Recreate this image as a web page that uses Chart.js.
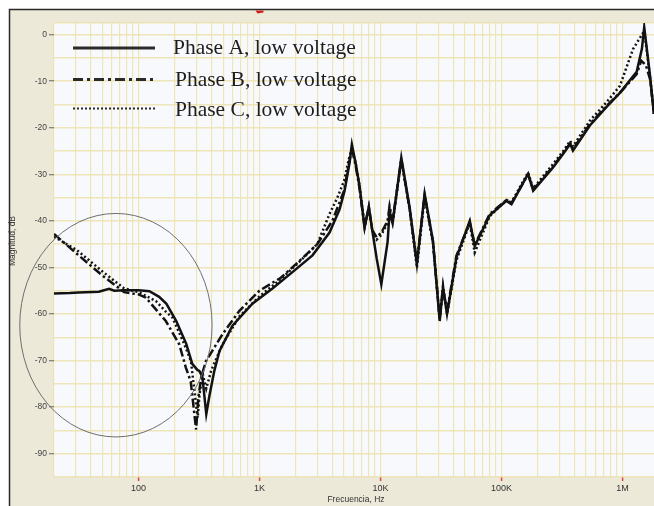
<!DOCTYPE html>
<html>
<head>
<meta charset="utf-8">
<script src="https://cdn.jsdelivr.net/npm/chart.js@4.4.1/dist/chart.umd.min.js"></script>
<style>
html,body{margin:0;padding:0;background:#fff;}
#wrap{width:654px;height:506px;position:relative;}
</style>
</head>
<body>
<div id="wrap"><canvas id="c" width="654" height="506"></canvas></div>
<script>
// ---- data ----
const seriesNames = ['Phase A, low voltage', 'Phase B, low voltage', 'Phase C, low voltage'];

const freqA = [20, 27, 32, 47, 57, 63, 76, 100, 123, 148, 170, 205, 248, 278, 306, 318, 337, 363, 385, 423, 466, 597, 873, 1279, 1871, 2740, 3790, 4590, 5050, 5550, 5800, 6220, 6710, 7390, 8010, 8550, 9290, 10160, 11450, 11890, 12590, 14860, 17420, 20000, 23170, 27160, 30850, 32880, 35480, 42400, 54700, 60100, 80000, 110000, 121000, 166000, 183000, 267000, 324000, 370000, 390000, 538000, 740000, 953000, 1312000, 1450000, 1514000, 1590000, 1690000, 1824000];
const magA  = [-55.6, -55.5, -55.4, -55.2, -54.6, -55.0, -54.9, -54.9, -55.1, -56.3, -57.8, -61.5, -66.4, -70.7, -72.0, -72.2, -73.5, -81.5, -77.6, -72.2, -68.0, -62.5, -57.8, -54.5, -51.0, -47.4, -42.5, -37.5, -33.5, -27.5, -23.6, -27.5, -32.5, -41.4, -37.0, -42.0, -48.0, -53.6, -44.5, -38.0, -40.5, -26.4, -37.1, -49.3, -34.2, -44.3, -61.5, -54.3, -60.0, -47.9, -40.0, -45.4, -38.8, -35.7, -36.4, -29.9, -33.5, -28.5, -25.6, -23.5, -24.9, -19.5, -15.5, -12.5, -8.0, -3.0, 1.6, -3.0, -8.8, -17.0];

const freqB = [20, 31, 50, 76, 100, 115, 168, 217, 246, 270, 299, 312, 330, 361, 495, 682, 998, 1500, 2000, 3000, 4000, 5000, 5500, 5800, 6220, 6710, 7390, 8010, 8550, 9290, 10160, 11450, 11890, 12590, 14860, 17420, 20000, 23170, 27160, 30850, 32880, 35480, 42400, 54700, 60100, 80000, 110000, 121000, 166000, 183000, 267000, 324000, 370000, 390000, 538000, 740000, 953000, 1312000, 1430000, 1560000, 1690000, 1824000];
const magB  = [-42.8, -47.1, -51.7, -55.3, -55.8, -56.5, -61.5, -66.5, -71.5, -74.5, -84.8, -78.0, -73.5, -70.1, -64.3, -59.3, -55.0, -52.2, -49.3, -45.0, -40.0, -33.5, -27.5, -24.5, -28.0, -33.0, -41.4, -37.0, -42.0, -43.5, -42.5, -40.0, -36.8, -40.0, -26.8, -37.5, -49.0, -34.5, -44.5, -61.0, -54.5, -59.5, -47.5, -40.3, -45.2, -38.5, -35.5, -36.2, -30.0, -33.3, -28.3, -25.4, -23.3, -24.6, -19.2, -15.3, -12.5, -8.5, -5.6, -6.5, -9.5, -17.0];

const freqC = [20, 31, 50, 76, 100, 139, 168, 191, 239, 271, 308, 320, 340, 363, 400, 495, 682, 998, 1500, 2000, 3000, 3790, 4400, 5000, 5500, 5800, 6220, 6710, 7390, 8010, 8550, 9290, 10160, 11450, 11890, 12590, 14860, 17420, 20000, 23170, 27160, 30850, 32880, 35480, 42400, 54700, 60100, 80000, 110000, 121000, 166000, 183000, 267000, 324000, 370000, 390000, 538000, 740000, 953000, 1224000, 1450000, 1514000, 1590000, 1690000, 1824000];
const magC  = [-43.4, -46.3, -50.8, -54.5, -55.3, -57.2, -59.5, -60.8, -66.5, -70.1, -82.3, -77.0, -73.0, -76.0, -72.0, -66.5, -60.5, -56.2, -52.5, -49.5, -45.0, -38.5, -35.0, -31.4, -26.5, -24.5, -27.5, -32.5, -41.0, -37.2, -42.0, -44.0, -43.0, -40.5, -37.5, -40.5, -27.0, -37.5, -50.0, -34.8, -44.8, -61.0, -54.0, -60.0, -48.5, -40.5, -46.8, -39.0, -35.5, -36.0, -29.6, -33.0, -27.8, -25.0, -22.8, -24.0, -18.5, -14.5, -11.0, -3.1, 0.0, 0.8, -3.5, -9.0, -17.0];

// axis ranges and tick labels
const xMin = 20, xMax = 1824000;
const yMin = -95, yMax = 2.5;
const xTickValues = [100, 1000, 10000, 100000, 1000000];
const xTickLabels = ['100', '1K', '10K', '100K', '1M'];
const yLabelStep = 10;
const xTitle = 'Frecuencia, Hz';
const yTitle = 'Magnitud, dB';

// annotation ellipse (data coordinates): centre freq, centre dB, half-width in decades, half-height in dB
const ellipseCenter = [65, -62.4];
const ellipseHalf = [0.795, 24];

// ---- chart ----
const toPts = (fs, ms) => fs.map((f, i) => ({x: f, y: ms[i]}));
const isMajorX = v => xTickValues.some(t => Math.abs(t - v) < 1e-6 * t);
const gridColor = 'rgba(236,226,176,0.9)';

const framePlugin = {
  id: 'frame',
  beforeDraw(chart) {
    const {ctx, chartArea: a} = chart;
    const W = chart.width, H = chart.height;
    ctx.save();
    ctx.fillStyle = '#ffffff';
    ctx.fillRect(0, 0, W, H);
    ctx.fillStyle = '#ece9d8';
    ctx.fillRect(10, 10, W - 10, H - 10);
    ctx.strokeStyle = '#2a2a2a';
    ctx.lineWidth = 1.5;
    ctx.beginPath();
    ctx.moveTo(9.5, H); ctx.lineTo(9.5, 9.5); ctx.lineTo(W, 9.5);
    ctx.stroke();
    ctx.fillStyle = '#f8f9fc';
    ctx.fillRect(a.left, a.top, a.right - a.left, a.bottom - a.top);
    // red marker on the top strip at 1K
    const xs = chart.scales.x;
    const px = xs.getPixelForValue(xTickValues[1]);
    ctx.fillStyle = '#d42020';
    ctx.beginPath();
    ctx.moveTo(px - 4, 10.5); ctx.lineTo(px + 4, 10.5); ctx.lineTo(px + 4, 12.5); ctx.lineTo(px - 2, 13.5); ctx.closePath();
    ctx.fill();
    ctx.restore();
  },
  afterDraw(chart) {
    const {ctx} = chart;
    const xs = chart.scales.x, ys = chart.scales.y;
    ctx.save();
    // ellipse annotation
    const cx = xs.getPixelForValue(ellipseCenter[0]);
    const cy = ys.getPixelForValue(ellipseCenter[1]);
    const rx = cx - xs.getPixelForValue(ellipseCenter[0] / Math.pow(10, ellipseHalf[0]));
    const ry = ys.getPixelForValue(ellipseCenter[1] - ellipseHalf[1]) - cy;
    ctx.strokeStyle = '#6f6f6f';
    ctx.lineWidth = 1;
    ctx.beginPath();
    ctx.ellipse(cx, cy, rx, ry, 0, 0, Math.PI * 2);
    ctx.stroke();
    // legend
    const rows = [
      {y: 48, ty: 54, dash: [], tx: 173},
      {y: 79.5, ty: 86, dash: [10, 4, 3, 4], tx: 175},
      {y: 108.5, ty: 116, dash: [2, 2], tx: 175}
    ];
    rows.forEach((r, i) => {
      ctx.strokeStyle = '#2b2b2b';
      ctx.lineWidth = i === 2 ? 2 : 3;
      ctx.setLineDash(r.dash);
      ctx.beginPath();
      ctx.moveTo(73, r.y); ctx.lineTo(155, r.y);
      ctx.stroke();
      ctx.setLineDash([]);
      ctx.fillStyle = '#1e1e1e';
      ctx.font = '21.5px "Liberation Serif", "Times New Roman", serif';
      ctx.textAlign = 'left';
      ctx.textBaseline = 'alphabetic';
      ctx.fillText(seriesNames[i], r.tx, r.ty);
    });
    // axis titles
    ctx.fillStyle = '#333';
    ctx.font = '8.5px "Liberation Sans", Arial, sans-serif';
    ctx.textAlign = 'center';
    ctx.textBaseline = 'middle';
    ctx.fillText(xTitle, 356, 500);
    ctx.translate(13, 241);
    ctx.rotate(-Math.PI / 2);
    ctx.fillText(yTitle, 0, 0);
    ctx.restore();
  }
};

const lineStyle = {
  pointRadius: 0, pointHoverRadius: 0, tension: 0, fill: false,
  borderColor: '#121212', borderWidth: 2.5, borderCapStyle: 'butt'
};

new Chart(document.getElementById('c'), {
  type: 'line',
  data: {
    datasets: [
      Object.assign({label: seriesNames[0], data: toPts(freqA, magA), borderDash: []}, lineStyle),
      Object.assign({label: seriesNames[1], data: toPts(freqB, magB), borderDash: [9, 3, 2.5, 3]}, lineStyle),
      Object.assign({label: seriesNames[2], data: toPts(freqC, magC), borderDash: [2, 2.5]}, lineStyle)
    ]
  },
  options: {
    responsive: false,
    animation: false,
    devicePixelRatio: 1,
    layout: {padding: {top: 23, left: 0, right: 0, bottom: 0}},
    plugins: {legend: {display: false}, tooltip: {enabled: false}},
    scales: {
      x: {
        type: 'logarithmic',
        min: xMin, max: xMax,
        afterFit: s => { s.height = 29; },
        afterBuildTicks: s => {
          const t = [];
          for (let e = 1; e <= 6; e++) {
            for (let m = 1; m <= 9; m++) {
              const v = m * Math.pow(10, e);
              if (v >= xMin && v <= xMax) t.push({value: v, major: m === 1});
            }
          }
          s.ticks = t;
        },
        ticks: {
          autoSkip: false, maxRotation: 0, minRotation: 0, padding: 2,
          color: '#333',
          font: {family: '"Liberation Sans", Arial, sans-serif', size: 9},
          callback: v => { const i = xTickValues.findIndex(t => Math.abs(t - v) < 1e-6 * t); return i >= 0 ? xTickLabels[i] : ''; }
        },
        grid: {
          color: gridColor, lineWidth: 1.2,
          drawTicks: true, tickLength: 4, tickWidth: 1.5,
          tickColor: c => (c.tick && isMajorX(c.tick.value)) ? '#e04848' : 'rgba(0,0,0,0)'
        },
        border: {display: false}
      },
      y: {
        type: 'linear',
        min: yMin, max: yMax,
        afterFit: s => { s.width = 54; },
        ticks: {
          stepSize: 5, padding: 2, color: '#444',
          font: {family: '"Liberation Sans", Arial, sans-serif', size: 8.5},
          callback: v => (Math.abs(v % yLabelStep) < 1e-9 ? String(v) : '')
        },
        grid: {
          color: gridColor, lineWidth: 1.5,
          drawTicks: true, tickLength: 5, tickWidth: 1,
          tickColor: c => (c.tick && Math.abs(c.tick.value % yLabelStep) < 1e-9) ? '#666' : 'rgba(0,0,0,0)'
        },
        border: {display: false}
      }
    }
  },
  plugins: [framePlugin]
});
</script>
</body>
</html>
